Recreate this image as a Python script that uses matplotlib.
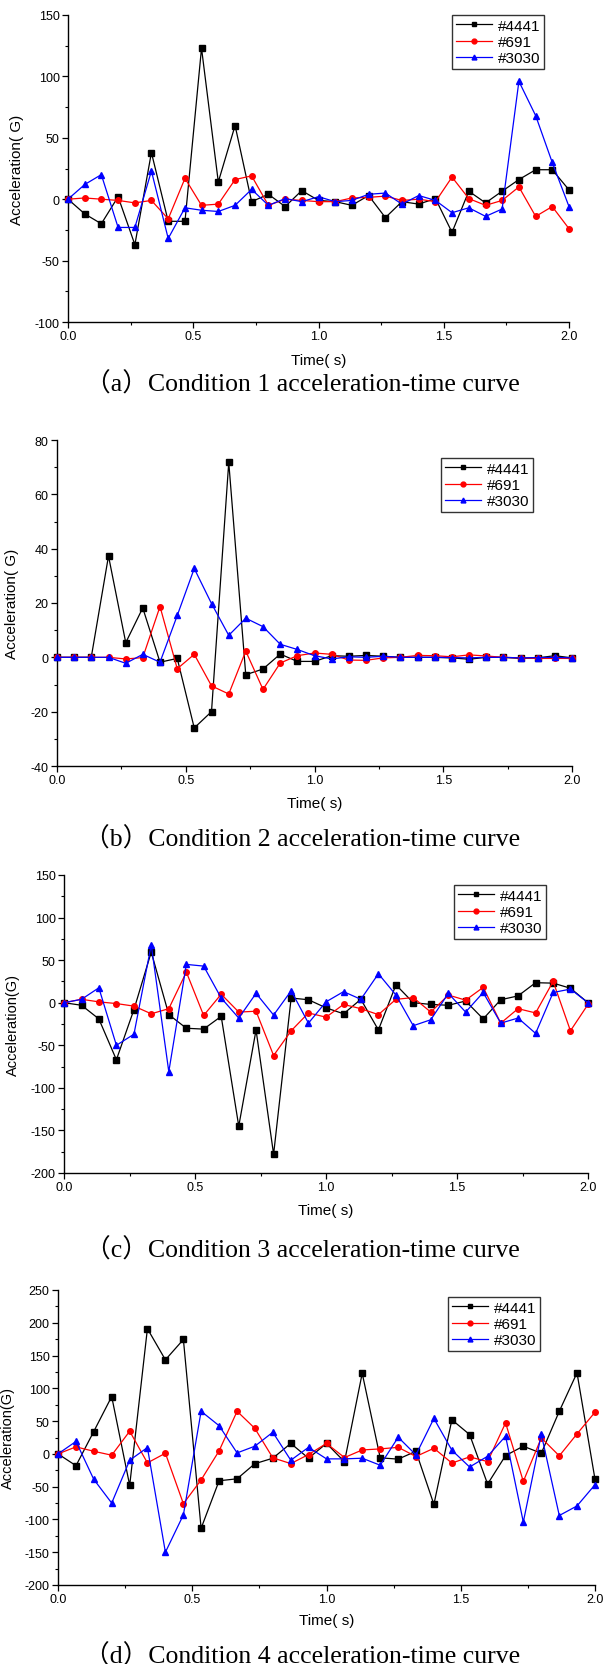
import numpy as np
import matplotlib
matplotlib.use("Agg")
import matplotlib.pyplot as plt
from matplotlib.ticker import MultipleLocator, FormatStrFormatter

# -------------------------
# Data
# -------------------------
TIME = [0.000, 0.067, 0.133, 0.200, 0.267, 0.333, 0.400, 0.467, 0.533, 0.600,
        0.667, 0.733, 0.800, 0.867, 0.933, 1.000, 1.067, 1.133, 1.200, 1.267,
        1.333, 1.400, 1.467, 1.533, 1.600, 1.667, 1.733, 1.800, 1.867, 1.933, 2.000]

SERIES = ["#4441", "#691", "#3030"]

a_4441 = [0, -12, -20, 2, -37, 38, -18, -18, 123, 14, 60, -2, 4, -6, 7, -1, -2, -5, 3, -15,
          -2, -4, 0.5, -27, 6.5, -3, 6.5, 16, 24, 24, 7.6]
a_691 = [0, 1, 0, -1, -3, -1, -16, 17, -5, -4, 16, 19, -5, 0, -1, -2, -2, 1, 1.5, 2.5,
         -1, 0, -2, 18, 0.5, -5, -1, 10, -14, -6, -24]
a_3030 = [0, 12, 20, -23, -23, 23, -32, -7, -9, -10, -5, 8, -5, 0.5, -2, 2, -2, -1, 4, 5,
          -4, 3, -1, -11, -7, -14, -8, 96, 68, 30, -6]

b_4441 = [0, 0, 0, 37.3, 5.4, 18.2, -1.8, -0.4, -26, -20, 71.8, -6.4, -4.3, 1.2, -1.5, -1.5,
          0.6, 0.4, 0.7, 0.4, 0, 0, 0, -0.2, -0.7, 0, 0, -0.4, -0.2, 0.6, -0.2]
b_691 = [0, 0, 0, 0, -0.6, -0.1, 18.7, -4.2, 1.1, -10.5, -13.5, 2.3, -11.8, -2.1, 0.6, 1.6,
         1.1, -1, -1.1, -0.2, 0, 0.7, 0.6, 0.2, 0.9, 0.5, 0, -0.2, -0.4, -0.4, -0.4]
b_3030 = [0, 0, 0, 0, -2.2, 1.1, -1.8, 15.4, 32.7, 19.8, 8.1, 14.4, 11.3, 4.8, 2.9, 0.6,
          -0.6, 0.2, 0, 0.4, 0, 0, 0, -0.1, -0.2, 0, 0, -0.2, -0.1, 0, -0.2]

c_4441 = [0, -3, -19, -67, -8, 59.5, -14, -30, -31, -16, -145, -32, -178, 5.5, 3.5, -6, -13,
          4, -32, 21, 0, -2, -3, 2, -19, 3.5, 8, 23.5, 23, 17, 0]
c_691 = [0, 4, 1, -1, -4, -13, -7, 36, -15, 10, -11, -10, -62, -33, -12, -17, -2, -7, -14,
         4, 6, -11, 9, 3, 18, -24, -7, -12, 25, -33, -2]
c_3030 = [0, 4, 17.5, -50, -37, 68, -81, 45, 43, 5.5, -18, 11, -14.5, 14, -24, 1, 13, 4, 34,
          9, -27, -20, 11, -11, 12, -24, -18, -36, 12, 16, 0]

d_4441 = [0, -18, 34, 87.5, -48, 191, 143.5, 174.5, -113.5, -41, -38, -15, -6.6, 16, -6.6,
          16, -12, 123, -6, -8, 4, -77, 52, 29.5, -46, -2.5, 11.7, 1, 65, 123.7, -38.7]
d_691 = [0, 10.7, 4, -2, 34.6, -13.7, 1, -76, -39.7, 4.6, 65, 39, -6, -14.8, -1, 16, -5.6,
         6, 7.6, 10, -4, 8.6, -14, -4.6, -11.7, 47.3, -42, 24.4, -3, 30.5, 63.6]
d_3030 = [0, 19, -38.7, -75, -9.7, 9.7, -150, -93, 65, 43, 1.5, 11.7, 33, -9.7, 10, -7.6,
          -7.6, -6.6, -17.3, 25.4, -1.5, 54, 5.6, -20, -3.6, 27, -104, 30, -94, -79.4, -47]

CAPTIONS = [
    "（a）Condition 1 acceleration-time curve",
    "（b）Condition 2 acceleration-time curve",
    "（c）Condition 3 acceleration-time curve",
    "（d）Condition 4 acceleration-time curve",
]
XLABEL = "Time( s)"
YLABELS = ["Acceleration( G)", "Acceleration( G)", "Acceleration(G)", "Acceleration(G)"]
YLABEL_FS = [11, 11, 10.5, 10.5]
YLIMS = [(-100, 150), (-40, 80), (-200, 150), (-200, 250)]
YSTEPS = [50, 20, 50, 50]

# -------------------------
# Layout (pixels in the 605x1665 canvas)
# -------------------------
W, H = 605, 1665
# left, top, right, bottom of each axes
AX_PX = [(68, 16, 569, 323), (57, 441, 572, 767), (64, 876, 588, 1174), (58, 1291, 595, 1586)]
XLABEL_Y = [361, 804, 1211, 1621]
CAPTION_Y = [384, 839, 1250, 1656]
YLABEL_X = [17, 12, 13, 8]
# legend top-left corner
LEG_PX = [(452, 16), (441, 459), (454, 886), (448, 1298)]

COLORS = ["#000000", "#FF0000", "#0000FF"]
MARKERS = ["s", "o", "^"]

SANS = ["Liberation Sans", "Noto Sans CJK SC"]
SERIF = ["Liberation Serif", "Noto Sans CJK SC"]

TICK_FS = 9
XLABEL_FS = 11
LEGEND_FS = 11
CAPTION_FS = 18.5

panels = [
    (a_4441, a_691, a_3030),
    (b_4441, b_691, b_3030),
    (c_4441, c_691, c_3030),
    (d_4441, d_691, d_3030),
]

fig = plt.figure(figsize=(W / 100, H / 100), dpi=100, facecolor="white")

for i, series in enumerate(panels):
    l, t, r, b = AX_PX[i]
    ax = fig.add_axes([l / W, 1 - b / H, (r - l) / W, (b - t) / H])

    for vals, name, col, mk in zip(series, SERIES, COLORS, MARKERS):
        ax.plot(TIME, vals, color=col, marker=mk, markersize=4, linewidth=0.9,
                label=name, clip_on=False, zorder=3)

    ax.set_xlim(0, 2.0)
    ax.set_ylim(*YLIMS[i])
    ax.xaxis.set_major_locator(MultipleLocator(0.5))
    ax.xaxis.set_minor_locator(MultipleLocator(0.25))
    ax.yaxis.set_major_locator(MultipleLocator(YSTEPS[i]))
    ax.yaxis.set_minor_locator(MultipleLocator(YSTEPS[i] / 2))
    ax.xaxis.set_major_formatter(FormatStrFormatter("%.1f"))
    ax.yaxis.set_major_formatter(FormatStrFormatter("%d"))

    ax.spines["top"].set_visible(False)
    ax.spines["right"].set_visible(False)
    ax.spines["left"].set_linewidth(1.0)
    ax.spines["bottom"].set_linewidth(1.0)
    ax.tick_params(which="major", direction="out", length=4, width=0.9,
                   labelsize=TICK_FS, pad=2)
    ax.tick_params(which="minor", direction="out", length=2.3, width=0.8)
    for lab in ax.get_xticklabels() + ax.get_yticklabels():
        lab.set_family(SANS)

    lx, ly = LEG_PX[i]
    leg = ax.legend(loc="upper left", bbox_to_anchor=(lx / W, 1 - ly / H),
                    bbox_transform=fig.transFigure, numpoints=1, fancybox=False,
                    frameon=True, edgecolor="black", handlelength=2.4,
                    handletextpad=0.35, labelspacing=0.15, borderpad=0.25,
                    borderaxespad=0, prop={"family": SANS, "size": LEGEND_FS})
    leg.get_frame().set_linewidth(1.0)
    for h in leg.legend_handles:
        h.set_markersize(3.5)

    # axis labels and caption
    fig.text((l + r) / 2 / W, 1 - XLABEL_Y[i] / H, XLABEL, ha="center", va="center",
             fontsize=XLABEL_FS, family=SANS)
    fig.text(YLABEL_X[i] / W, 1 - (t + b) / 2 / H, YLABELS[i], ha="center", va="center",
             rotation=90, fontsize=YLABEL_FS[i], family=SANS)
    fig.text(0.5, 1 - CAPTION_Y[i] / H, CAPTIONS[i], ha="center", va="center",
             fontsize=CAPTION_FS, family=SERIF)

fig.savefig("out.png", dpi=100, facecolor="white")
